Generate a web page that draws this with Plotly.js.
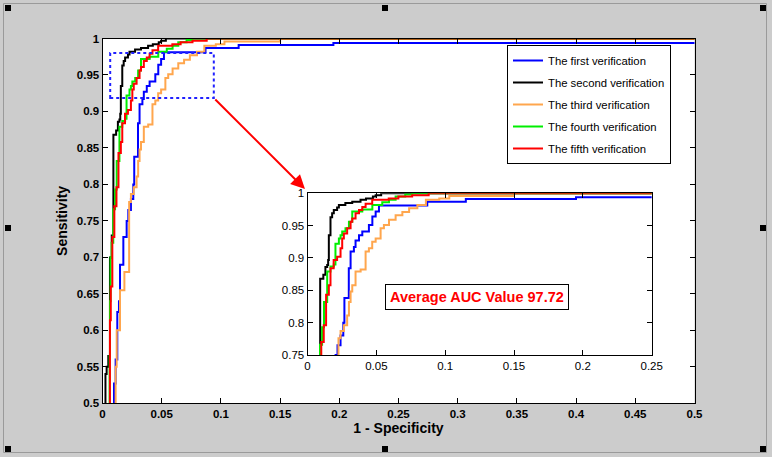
<!DOCTYPE html>
<html>
<head>
<meta charset="utf-8">
<script src="https://cdn.plot.ly/plotly-3.0.1.min.js"></script>
<style>
  html, body { margin: 0; padding: 0; background: #cccccc; }
  #rocChart { width: 772px; height: 457px; }
</style>
</head>
<body>
<div id="rocChart"></div>
<script>
// ROC curves (false positive rate / true positive rate)
const seriesNames = ["The first verification", "The second verification", "The third verification",
                     "The fourth verification", "The fifth verification"];

const fpr1 = [0, 0.0097, 0.0111, 0.0125, 0.0139, 0.0148, 0.0176, 0.0204, 0.0218, 0.0240, 0.0260, 0.0268,
              0.0300, 0.0313, 0.0337, 0.0349, 0.0374, 0.0398, 0.0446, 0.0471, 0.0495, 0.0519, 0.0870, 0.1150, 0.1950, 1];
const tpr1 = [0, 0.527, 0.560, 0.625, 0.640, 0.690, 0.728, 0.750, 0.765, 0.780, 0.800, 0.838,
              0.884, 0.910, 0.917, 0.927, 0.935, 0.941, 0.951, 0.964, 0.972, 0.981, 0.987, 0.991, 0.994, 1];

const fpr2 = [0, 0.0025, 0.0035, 0.0049, 0.0063, 0.0078, 0.0092, 0.0115, 0.0130, 0.0143, 0.0150, 0.0155,
              0.0167, 0.0179, 0.0191, 0.0215, 0.0228, 0.0275, 0.0325, 0.0385, 0.0425, 0.0475, 0.0495, 0.0535, 1];
const tpr2 = [0, 0.540, 0.550, 0.565, 0.700, 0.730, 0.868, 0.874, 0.886, 0.889, 0.897, 0.935,
              0.963, 0.969, 0.974, 0.978, 0.982, 0.985, 0.987, 0.990, 0.992, 0.995, 0.997, 1.000, 1];

const fpr3 = [0, 0.0111, 0.0120, 0.0148, 0.0185, 0.0225, 0.0240, 0.0264, 0.0288, 0.0301, 0.0313, 0.0325,
              0.0349, 0.0386, 0.0422, 0.0446, 0.0470, 0.0495, 0.0531, 0.0555, 0.0592, 0.0640, 0.0689, 0.0738,
              0.0798, 0.0860, 0.0957, 0.1030, 0.1500, 1];
const tpr3 = [0, 0.550, 0.600, 0.655, 0.680, 0.776, 0.787, 0.796, 0.811, 0.832, 0.848, 0.858,
              0.879, 0.882, 0.910, 0.915, 0.925, 0.930, 0.946, 0.951, 0.959, 0.966, 0.971, 0.977,
              0.982, 0.990, 0.992, 0.996, 1.000, 1];

const fpr4 = [0, 0.0060, 0.0063, 0.0068, 0.0077, 0.0091, 0.0106, 0.0120, 0.0143, 0.0167, 0.0191, 0.0203,
              0.0228, 0.0240, 0.0252, 0.0276, 0.0301, 0.0325, 0.0398, 0.0471, 0.0543, 0.0592, 0.0640, 0.0710, 0.0760, 1];
const tpr4 = [0, 0.565, 0.640, 0.700, 0.720, 0.766, 0.793, 0.832, 0.879, 0.887, 0.890, 0.922,
              0.930, 0.935, 0.941, 0.946, 0.956, 0.972, 0.975, 0.982, 0.986, 0.990, 0.995, 0.998, 1.000, 1];

const fpr5 = [0, 0.0063, 0.0070, 0.0083, 0.0100, 0.0118, 0.0135, 0.0155, 0.0167, 0.0190, 0.0215, 0.0240,
              0.0252, 0.0264, 0.0288, 0.0313, 0.0325, 0.0349, 0.0374, 0.0398, 0.0422, 0.0470, 0.0590, 0.0660,
              0.0760, 0.0880, 1];
const tpr5 = [0, 0.614, 0.660, 0.728, 0.770, 0.796, 0.843, 0.858, 0.884, 0.897, 0.902, 0.915,
              0.930, 0.938, 0.946, 0.956, 0.961, 0.969, 0.974, 0.979, 0.984, 0.990, 0.992, 0.995,
              0.997, 1.000, 1];

const aucText = "Average AUC Value 97.72";

const fprs = [fpr1, fpr2, fpr3, fpr4, fpr5];
const tprs = [tpr1, tpr2, tpr3, tpr4, tpr5];
const colors = ["#0000ff", "#000000", "#ffa64d", "#00ee00", "#ff0000"];

const W = 772, H = 457;
const px = v => v / W;
const py = v => 1 - v / H;

function makeTraces(){
    const main = seriesNames.map((name, i) => ({
        type: "scatter", mode: "lines",
        x: fprs[i], y: tprs[i],
        line: { color: colors[i], width: 2, shape: "hv" },
        name, legendgroup: "g" + i,
        xaxis: "x", yaxis: "y",
        hoverinfo: "skip"
    }));
    const inset = seriesNames.map((name, i) => ({
        type: "scatter", mode: "lines",
        x: fprs[i], y: tprs[i],
        line: { color: colors[i], width: 2, shape: "hv" },
        name, legendgroup: "g" + i, showlegend: false,
        xaxis: "x2", yaxis: "y2",
        hoverinfo: "skip"
    }));
    return main.concat(inset);
}

function axisBase(){
    return {
        ticks: "inside", ticklen: 5, tickwidth: 1, tickcolor: "black",
        mirror: "allticks", showline: true, linecolor: "black", linewidth: 1,
        showgrid: false, zeroline: false
    };
}

function visualizeData(){
    // selection handles around the figure
    const handles = [[8, 8], [385, 8], [763, 8], [8, 228], [763, 228], [8, 449], [385, 449], [763, 449]]
        .map(([cx, cy]) => ({
            type: "rect", xref: "paper", yref: "paper", layer: "above",
            x0: px(cx - 3), x1: px(cx + 3), y0: py(cy + 3), y1: py(cy - 3),
            fillcolor: "black", line: { width: 0 }
        }));

    const layout = {
        width: W, height: H,
        margin: { l: 0, r: 0, t: 0, b: 0 },
        paper_bgcolor: "#cccccc",
        plot_bgcolor: "white",
        font: { family: "Liberation Sans, Arial, sans-serif", color: "black" },
        xaxis: Object.assign(axisBase(), {
            domain: [px(102.5), px(694.5)], range: [0, 0.5], tick0: 0, dtick: 0.05, anchor: "y",
            tickfont: { size: 11.5, weight: "bold" },
            title: { text: "1 - Specificity", font: { size: 14, weight: "bold" }, standoff: 4 }
        }),
        yaxis: Object.assign(axisBase(), {
            domain: [py(403.3), py(38.5)], range: [0.5, 1], tick0: 0.5, dtick: 0.05, anchor: "x",
            tickfont: { size: 11.5, weight: "bold" },
            title: { text: "Sensitivity", font: { size: 14, weight: "bold" }, standoff: 5 }
        }),
        xaxis2: Object.assign(axisBase(), {
            domain: [px(307.5), px(651.7)], range: [0, 0.25], tick0: 0, dtick: 0.05, anchor: "y2",
            tickfont: { size: 11.5 }
        }),
        yaxis2: Object.assign(axisBase(), {
            domain: [py(355), py(193.3)], range: [0.75, 1], tick0: 0.75, dtick: 0.05, anchor: "x2",
            tickfont: { size: 11.5 }
        }),
        showlegend: true,
        legend: {
            x: px(507), y: py(45), xanchor: "left", yanchor: "top",
            bgcolor: "white", bordercolor: "black", borderwidth: 1,
            font: { size: 11.3 }, tracegroupgap: 3
        },
        shapes: [
            { type: "rect", xref: "paper", yref: "paper", layer: "below",
              x0: px(3.5), x1: px(766.5), y0: py(452.5), y1: py(3.5),
              line: { color: "#9a9a9a", width: 1 } },
            // zoom window marked on the main axes
            { type: "rect", xref: "x", yref: "y", layer: "above",
              x0: 0.0065, x1: 0.094, y0: 0.9185, y1: 0.980,
              line: { color: "#2020ff", width: 2, dash: "dot" } }
        ].concat(handles),
        annotations: [
            { xref: "x", yref: "y", axref: "x", ayref: "y",
              x: 0.171, y: 0.7937, ax: 0.094, ay: 0.9185,
              text: "", showarrow: true, arrowhead: 2, arrowsize: 1.4,
              arrowwidth: 2, arrowcolor: "#ff0000", standoff: 0 },
            { xref: "x2", yref: "y2", x: 0.123, y: 0.839,
              text: "<b>" + aucText + "</b>", showarrow: false,
              font: { color: "#ff0000", size: 14.5 },
              bgcolor: "white", bordercolor: "black", borderwidth: 1, borderpad: 4 }
        ]
    };

    Plotly.newPlot("rocChart", makeTraces(), layout, { displayModeBar: false, staticPlot: true });
}

document.addEventListener('DOMContentLoaded', visualizeData);
</script>
</body>
</html>
